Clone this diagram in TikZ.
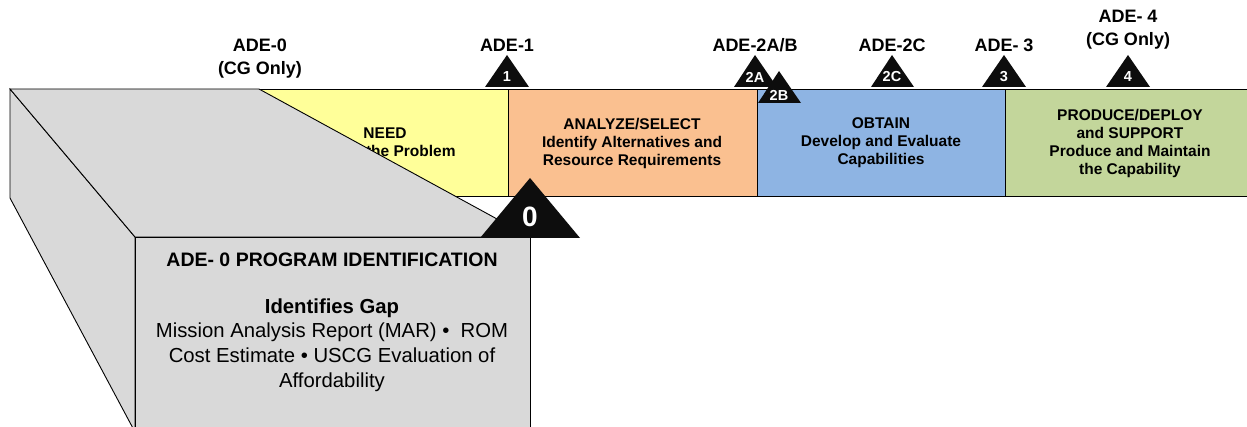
\documentclass[tikz,border=0pt]{standalone}
\usepackage{fontspec}
\setmainfont{Liberation Sans}
\definecolor{needyellow}{HTML}{FFFF99}
\definecolor{analyzeorange}{HTML}{FAC090}
\definecolor{obtainblue}{HTML}{8EB4E3}
\definecolor{producegreen}{HTML}{C3D69B}
\definecolor{boxgray}{HTML}{D9D9D9}
\definecolor{markblack}{HTML}{0D0D0D}
\begin{document}
\begin{tikzpicture}[x=1pt,y=-1pt,
  phase/.style={draw=black,line width=0.9pt},
  phasetext/.style={font=\fontsize{15.5}{18}\selectfont\bfseries,align=center,inner sep=0pt},
  gate/.style={font=\fontsize{18}{23}\selectfont\bfseries,align=center,inner sep=0pt},
  gatenum/.style={font=\fontsize{14.5}{15}\selectfont\bfseries,text=white,inner sep=0pt},
  face/.style={fill=boxgray,draw=black,line width=0.9pt,line join=miter},
  marker/.style={fill=markblack}]
\useasboundingbox (0,0) rectangle (1247,427);
\clip (0,0) rectangle (1247,427);

% acquisition phase bar
\draw[phase,fill=needyellow]    (10,89)   rectangle (508,196);
\draw[phase,fill=analyzeorange] (508,89)  rectangle (757,196);
\draw[phase,fill=obtainblue]    (757,89)  rectangle (1005,196);
\draw[phase,fill=producegreen]  (1005,89) rectangle (1270,196);

\node[phasetext] (need)    at (385,142) {NEED\\Define the Problem};
\node[phasetext] (analyze) at (632,143) {ANALYZE/SELECT\\Identify Alternatives and\\Resource Requirements};
\node[phasetext] (obtain)  at (881,143) {OBTAIN\\Develop and Evaluate\\Capabilities};
\node[phasetext] (produce) at (1130,143) {PRODUCE/DEPLOY\\and SUPPORT\\Produce and Maintain\\the Capability};

% ADE-0 block drawn as an open box
\draw[face] (10,89) -- (135,237) -- (135,432) -- (10,198) -- cycle;
\draw[face] (10,89) -- (259,89) -- (530,237) -- (135,237) -- cycle;
\draw[face] (135,237) rectangle (530,440);

\node[font=\fontsize{19.5}{22}\selectfont\bfseries,inner sep=0pt] (ade0title) at (332,260) {ADE- 0 PROGRAM IDENTIFICATION};
\node[font=\fontsize{20.3}{24.7}\selectfont,align=center,inner sep=0pt] (ade0body) at (332,345)
  {\textbf{Identifies Gap}\\Mission Analysis Report (MAR) \textbullet\ \ ROM\\Cost Estimate \textbullet\ USCG Evaluation of\\Affordability};

% decision gate markers
\fill[marker] (480,238) -- (530,178) -- (580,238) -- cycle;
\node[font=\fontsize{28}{30}\selectfont\bfseries,text=white,inner sep=0pt] (g0) at (530,217) {0};

\fill[marker] (485,87) -- (507,55) -- (529,87) -- cycle;
\node[gatenum] (g1) at (507,77) {1};
\fill[marker] (734,87) -- (755,55) -- (777,87) -- cycle;
\node[gatenum] (g2a) at (755,77) {2A};
\fill[marker] (758,103) -- (779,71) -- (801,103) -- cycle;
\node[gatenum] (g2b) at (779,95) {2B};
\fill[marker] (871,87) -- (892,55) -- (914,87) -- cycle;
\node[gatenum] (g2c) at (892,77) {2C};
\fill[marker] (982,87) -- (1004,55) -- (1026,87) -- cycle;
\node[gatenum] (g3) at (1004,77) {3};
\fill[marker] (1106,87) -- (1128,55) -- (1150,87) -- cycle;
\node[gatenum] (g4) at (1128,77) {4};

% gate labels
\node[gate] (ade0)  at (260,58.5) {ADE-0\\(CG Only)};
\node[gate] (ade1)  at (507,45) {ADE-1};
\node[gate] (ade2ab) at (755,45) {ADE-2A/B};
\node[gate] (ade2c) at (892,45) {ADE-2C};
\node[gate] (ade3)  at (1004,45) {ADE- 3};
\node[gate] (ade4)  at (1128,30) {ADE- 4\\(CG Only)};
\end{tikzpicture}
\end{document}
